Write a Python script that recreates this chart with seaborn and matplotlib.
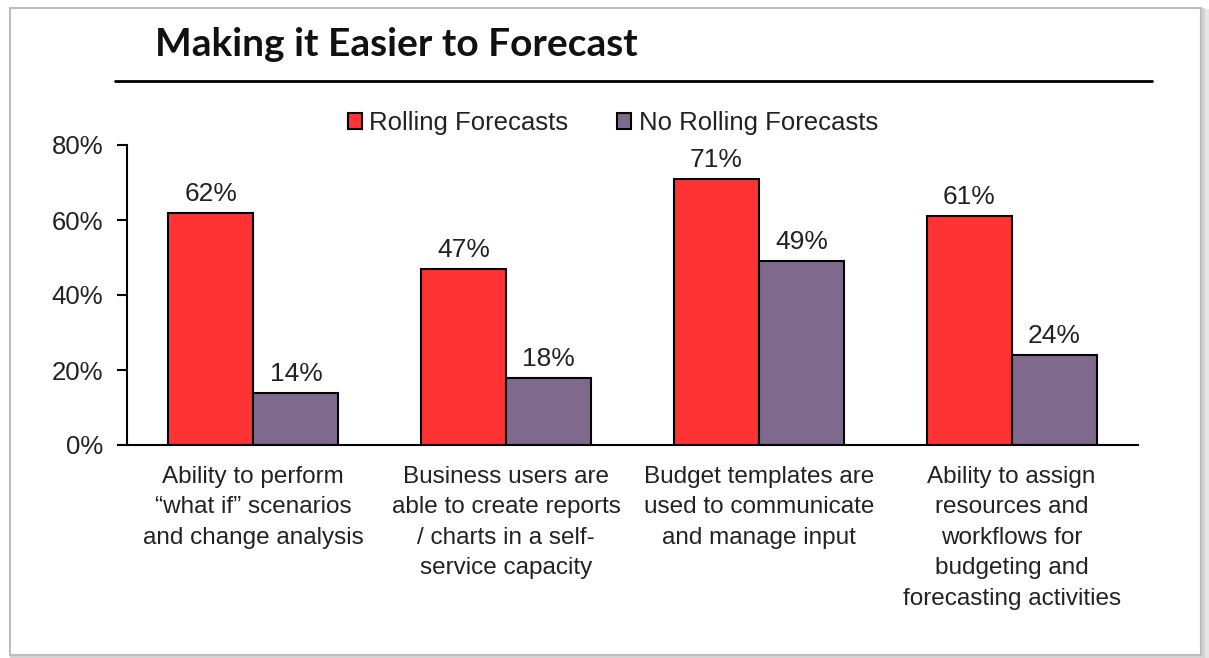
import matplotlib
matplotlib.use("Agg")
import matplotlib.pyplot as plt
from matplotlib.patches import Rectangle, Patch
from matplotlib.lines import Line2D
import seaborn as sns
import pandas as pd

categories = [
    "Ability to perform\n\u201cwhat if\u201d scenarios\nand change analysis",
    "Business users are\nable to create reports\n/ charts in a self-\nservice capacity",
    "Budget templates are\nused to communicate\nand manage input",
    "Ability to assign\nresources and\nworkflows for\nbudgeting and\nforecasting activities",
]
series_names = ["Rolling Forecasts", "No Rolling Forecasts"]
rolling = [62, 47, 71, 61]
no_rolling = [14, 18, 49, 24]
y_ticks = [0, 20, 40, 60, 80]
colors = ["#FF3333", "#7F6A8D"]

df = pd.DataFrame({
    "category": categories * 2,
    "series": [series_names[0]] * 4 + [series_names[1]] * 4,
    "value": rolling + no_rolling,
})

sns.set_theme(style="white")
plt.rcParams["font.family"] = ["Liberation Sans", "DejaVu Sans"]
text_color = "#222222"

fig = plt.figure(figsize=(12.09, 6.58), dpi=100)
fig.patch.set_facecolor("white")
W, H = 1209, 658

# card frame with a soft shadow, kept behind the axes
for off, col, lw in [(4, "#E6E6E6", 5), (2, "#D4D4D4", 3)]:
    fig.add_artist(Rectangle(((10 + off) / W, 1 - (655 + off) / H), 1191 / W, 647 / H,
                             transform=fig.transFigure, fill=False, edgecolor=col, lw=lw,
                             zorder=-10))
fig.add_artist(Rectangle((10 / W, 1 - 655 / H), 1191 / W, 647 / H,
                         transform=fig.transFigure, facecolor="white", edgecolor="#BDBDBD",
                         lw=1.5, zorder=-9))

ax = fig.add_axes([127 / W, 1 - 445 / H, (1138 - 127) / W, (445 - 145) / H])
ax.set_facecolor("none")
ax.set_zorder(1)

sns.barplot(data=df, x="category", y="value", hue="series", order=categories,
            hue_order=series_names, palette=colors, width=0.673, saturation=1,
            edgecolor="black", linewidth=1.5, ax=ax, legend=False)

for cont in ax.containers:
    ax.bar_label(cont, labels=[f"{v:.0f}%" for v in cont.datavalues], padding=5,
                 fontsize=19, color=text_color)

ax.set_xlim(-0.5, 3.5)
ax.set_ylim(0, 80)
ax.set_yticks(y_ticks)
ax.set_yticklabels([f"{t}%" for t in y_ticks], fontsize=18.5, color=text_color)
ax.set_xticks(range(len(categories)))
ax.set_xticklabels(categories, fontsize=17.5, color=text_color, linespacing=1.5, va="top")
ax.set_xlabel("")
ax.set_ylabel("")
ax.tick_params(axis="x", length=0, pad=15)
ax.tick_params(axis="y", length=7, width=1.5, color="black", pad=10, direction="out", left=True)
for side in ["top", "right"]:
    ax.spines[side].set_visible(False)
for side in ["left", "bottom"]:
    ax.spines[side].set_color("black")
    ax.spines[side].set_linewidth(1.5)

handles = [Patch(facecolor=c, edgecolor="black", linewidth=1.5) for c in colors]
fig.legend(handles, series_names, loc="center", bbox_to_anchor=(613 / W, 1 - 123 / H),
           ncol=2, frameon=False, fontsize=18.5, handlelength=0.55, handleheight=0.55,
           handletextpad=0.3, columnspacing=1.9, labelcolor=text_color)

fig.text(155 / W, 1 - 45 / H, "Making it Easier to Forecast", fontsize=28,
         fontweight="bold", family=["Lato", "DejaVu Sans"], color="#111111", va="center", ha="left")
fig.add_artist(Line2D([115 / W, 1152 / W], [1 - 81 / H, 1 - 81 / H],
                      transform=fig.transFigure, color="black", lw=2))

fig.savefig("out.png", dpi=100)
